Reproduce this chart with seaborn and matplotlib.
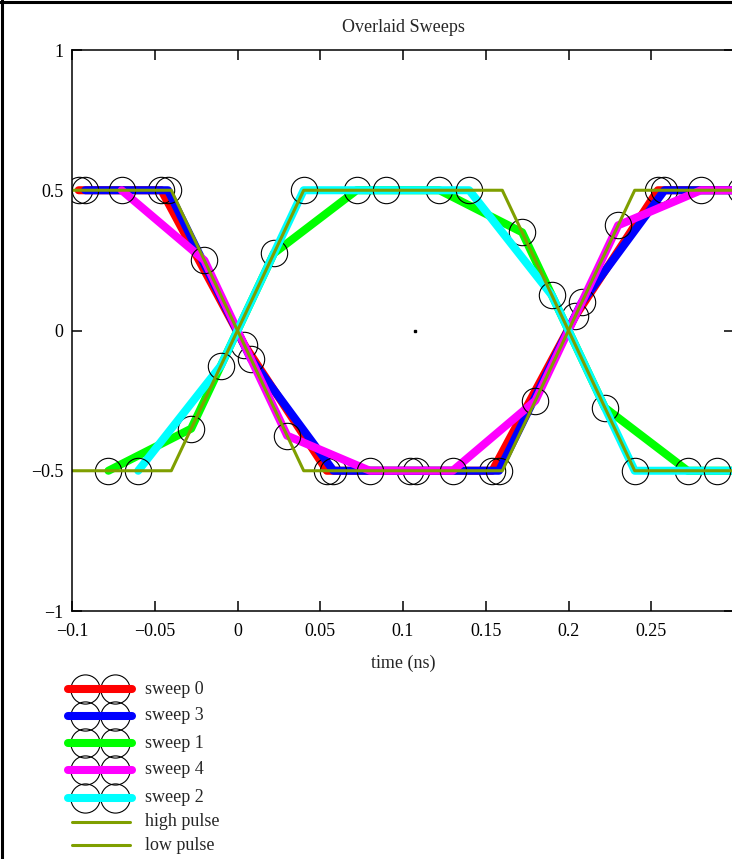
import matplotlib
matplotlib.use("Agg")
import matplotlib.pyplot as plt
import seaborn as sns

# sweep samples (time in ns, amplitude)
t_sweep0 = [-0.096, -0.046, 0.004, 0.054, 0.104, 0.154, 0.204, 0.254, 0.304]
v_sweep0 = [0.5, 0.5, -0.05, -0.5, -0.5, -0.5, 0.05, 0.5, 0.5]
t_sweep3 = [-0.092, -0.042, 0.008, 0.058, 0.108, 0.158, 0.208, 0.258, 0.308]
v_sweep3 = [0.5, 0.5, -0.1, -0.5, -0.5, -0.5, 0.1, 0.5, 0.5]
t_sweep1 = [-0.078, -0.028, 0.022, 0.072, 0.122, 0.172, 0.222, 0.272, 0.322]
v_sweep1 = [-0.5, -0.35, 0.275, 0.5, 0.5, 0.35, -0.275, -0.5, -0.5]
t_sweep4 = [-0.07, -0.02, 0.03, 0.08, 0.13, 0.18, 0.23, 0.28, 0.33]
v_sweep4 = [0.5, 0.25, -0.375, -0.5, -0.5, -0.25, 0.375, 0.5, 0.5]
t_sweep2 = [-0.06, -0.01, 0.04, 0.09, 0.14, 0.19, 0.24, 0.29, 0.34]
v_sweep2 = [-0.5, -0.125, 0.5, 0.5, 0.5, 0.125, -0.5, -0.5, -0.5]

# ideal pulses
t_pulse = [-0.1, -0.04, 0.04, 0.16, 0.24, 0.3]
v_high = [-0.5, -0.5, 0.5, 0.5, -0.5, -0.5]
v_low = [0.5, 0.5, -0.5, -0.5, 0.5, 0.5]

# stray point near the centre
t_dot = [0.107]
v_dot = [0.0]

x_ticks = [-0.1, -0.05, 0, 0.05, 0.1, 0.15, 0.2, 0.25]
x_tick_labels = ["\u22120.1", "\u22120.05", "0", "0.05", "0.1", "0.15", "0.2", "0.25"]
y_ticks = [-1, -0.5, 0, 0.5, 1]
y_tick_labels = ["\u22121", "\u22120.5", "0", "0.5", "1"]

sweeps = [
    ("sweep 0", t_sweep0, v_sweep0, "#ff0000"),
    ("sweep 3", t_sweep3, v_sweep3, "#0000ff"),
    ("sweep 1", t_sweep1, v_sweep1, "#00ff00"),
    ("sweep 4", t_sweep4, v_sweep4, "#ff00ff"),
    ("sweep 2", t_sweep2, v_sweep2, "#00ffff"),
]
pulses = [("high pulse", v_high), ("low pulse", v_low)]
OLIVE = "#7f9f00"

sns.set_theme(style="ticks")
plt.rcParams["font.family"] = ["Liberation Serif", "DejaVu Serif"]
plt.rcParams["axes.unicode_minus"] = True

W, H = 732, 859
fig = plt.figure(figsize=(W / 100, H / 100), dpi=100)
fig.patch.set_facecolor("white")

ax = fig.add_axes([72 / W, 1 - 611 / H, 662 / W, 561 / H])
ax.set_facecolor("white")

for label, t, v, color in sweeps:
    sns.lineplot(x=t, y=v, ax=ax, color=color, linewidth=5.8, sort=False, estimator=None,
                 marker="o", markersize=19, markerfacecolor="none",
                 markeredgecolor="black", markeredgewidth=0.8, legend=False)

for label, v in pulses:
    sns.lineplot(x=t_pulse, y=v, ax=ax, color=OLIVE, linewidth=2.2, sort=False,
                 estimator=None, legend=False)

ax.plot(t_dot, v_dot, "s", color="black", markersize=1.5)

ax.set_xlim(-0.1, 0.3)
ax.set_ylim(-1, 1)
ax.set_xticks(x_ticks)
ax.set_xticklabels(x_tick_labels)
ax.set_yticks(y_ticks)
ax.set_yticklabels(y_tick_labels)
ax.tick_params(direction="in", length=7, width=1.1, top=True, right=True,
               labelsize=13, colors="black")
ax.tick_params(axis="x", pad=9)
ax.tick_params(axis="y", pad=6)
for sp in ax.spines.values():
    sp.set_color("black")
    sp.set_linewidth(1.1)
ax.set_title("Overlaid Sweeps", fontsize=13, pad=13)
ax.set_xlabel("time (ns)", fontsize=13, labelpad=10)
ax.set_ylabel("")

# legend drawn in pixel coordinates below the plot
leg = fig.add_axes([0, 0, 1, 1])
leg.set_xlim(0, W)
leg.set_ylim(H, 0)
leg.axis("off")
row_y = [689, 716, 743, 770, 798]
for (label, t, v, color), y in zip(sweeps, row_y):
    leg.plot([85, 115], [y, y], "o", markersize=21, markerfacecolor="none",
             markeredgecolor="black", markeredgewidth=0.8)
    leg.plot([68, 132], [y, y], color=color, linewidth=5.8, solid_capstyle="round")
    leg.text(145, y, label, fontsize=13, va="center", ha="left")
for (label, v), y in zip(pulses, [822, 845]):
    leg.plot([72, 130], [y, y], color=OLIVE, linewidth=2.2)
    leg.text(145, y, label, fontsize=13, va="center", ha="left")

# frame on the left and top of the picture
leg.plot([1.5, 1.5], [0, H], color="black", linewidth=2.2, clip_on=False)
leg.plot([0, W], [1.5, 1.5], color="black", linewidth=2.2, clip_on=False)

fig.savefig("out.png", dpi=100, facecolor="white")
